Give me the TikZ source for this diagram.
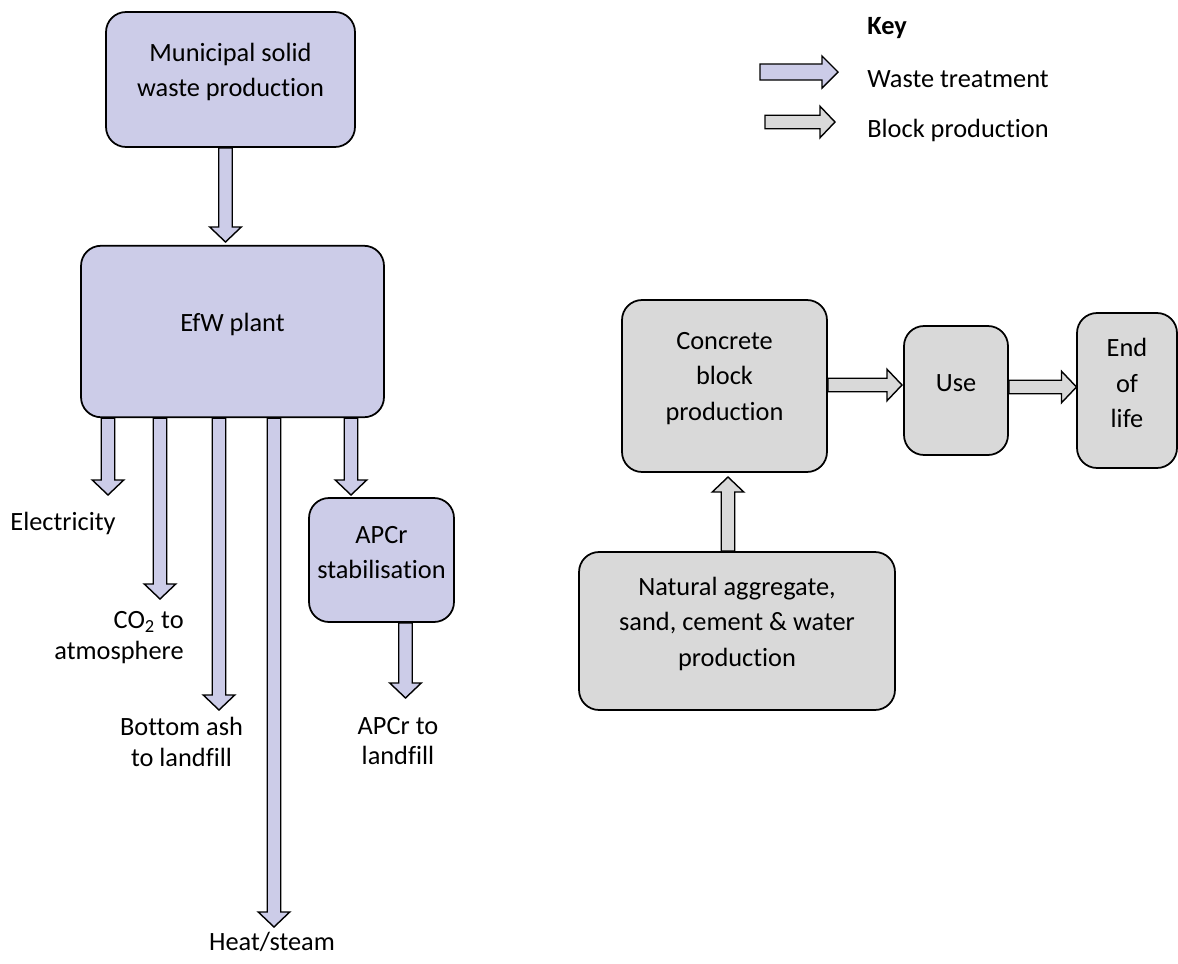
\documentclass[tikz,border=0pt]{standalone}
\usepackage{fontspec}
\setmainfont{Carlito}[Ligatures=NoCommon]
\usetikzlibrary{calc}
\definecolor{waste}{RGB}{204,204,232}
\definecolor{block}{RGB}{217,217,217}

\begin{document}
\begin{tikzpicture}[x=0.02cm, y=-0.02cm, font=\fontsize{15}{17.6}\selectfont,
    box/.style={draw, fill=#1, line width=1pt, rounded corners=0.4cm, inner sep=0},
    txt/.style={align=center, inner sep=0, yshift=0.15cm, font=\fontsize{15}{20.2}\selectfont},
    shaft/.store in=\shafthalf, headw/.store in=\headhalf, headl/.store in=\headlen,
    shaft=0.135cm, headw=0.315cm, headl=0.3cm,
    fat/.style={draw, fill=#1, line width=0.8pt, line join=miter,
        to path={let \p1=(\tikztostart), \p2=(\tikztotarget), \p3=($(\p2)!\headlen!(\p1)$) in
            ($(\p1)!\shafthalf!90:(\p2)$) -- ($(\p3)!\shafthalf!90:(\p2)$) -- ($(\p3)!\headhalf!90:(\p2)$)
            -- (\p2) -- ($(\p3)!\headhalf!-90:(\p2)$) -- ($(\p3)!\shafthalf!-90:(\p2)$)
            -- ($(\p1)!\shafthalf!-90:(\p2)$) -- cycle}}]
\useasboundingbox (0,0) rectangle (1178,964);

% waste treatment
\node[box=waste, minimum width=4.98cm, minimum height=2.7cm,
      label={[txt, name=mswtxt]center:{Municipal solid\\waste production}}] (msw) at (230.5,79.5) {};
\node[box=waste, minimum width=6.06cm, minimum height=3.43cm,
      label={[txt, name=efwtxt]center:{EfW plant}}] (efw) at (232.5,331.5) {};
\node[box=waste, minimum width=2.9cm, minimum height=2.48cm,
      label={[txt, name=apcrtxt]center:{APCr\\stabilisation}}] (apcr) at (381.5,560) {};

\coordinate (mswtip) at (225.5,242);
\draw[fat=waste] (msw.south -| mswtip) to (mswtip);

\coordinate (electip) at (108,495);
\coordinate (co2tip) at (160,599);
\coordinate (ashtip) at (219,710);
\coordinate (heattip) at (274,927);
\coordinate (apcrtip) at (351,495);
\draw[fat=waste] (efw.south -| electip) to (electip);
\draw[fat=waste] (efw.south -| co2tip) to (co2tip);
\draw[fat=waste] (efw.south -| ashtip) to (ashtip);
\draw[fat=waste] (efw.south -| heattip) to (heattip);
\draw[fat=waste] (efw.south -| apcrtip) to (apcrtip);

\coordinate (lftip) at (405.5,698);
\draw[fat=waste] (apcr.south -| lftip) to (lftip);

\node[inner sep=0] (elec) at (63,523) {Electricity};
\node[inner sep=0, align=right, anchor=east] (co2) at (184,638) {CO\textsubscript{2} to\\atmosphere};
\node[inner sep=0, align=center] (ash) at (181.5,742) {Bottom ash\\to landfill};
\node[inner sep=0] (heat) at (272,942) {Heat/steam};
\node[inner sep=0, align=center] (lf) at (398,741) {APCr to\\landfill};

% block production
\node[box=block, minimum width=4.1cm, minimum height=3.44cm,
      label={[txt, name=cbtxt]center:{Concrete\\block\\production}}] (cb) at (724.5,386) {};
\node[box=block, minimum width=2.08cm, minimum height=2.58cm,
      label={[txt, name=usetxt]center:{Use}}] (use) at (956,390.5) {};
\node[box=block, minimum width=2cm, minimum height=3.1cm,
      label={[txt, name=eoltxt]center:{End\\of\\life}}] (eol) at (1127,390.5) {};
\node[box=block, minimum width=6.32cm, minimum height=3.16cm,
      label={[txt, name=nattxt]center:{Natural aggregate,\\sand, cement \& water\\production}}] (nat) at (737,631) {};

\coordinate (cbtip) at (728,477);
\coordinate (usetip) at (902,385);
\coordinate (eoltip) at (1076.5,387);
\draw[fat=block] (nat.north -| cbtip) to (cbtip);
\draw[fat=block] (cb.east |- usetip) to (usetip);
\draw[fat=block] (use.east |- eoltip) to (eoltip);

% key
\node[anchor=west, inner sep=0] (key) at (867,28) {\textbf{Key}};
\node[anchor=west, inner sep=0] (keyw) at (867,79) {Waste treatment};
\node[anchor=west, inner sep=0] (keyb) at (867,130) {Block production};
\coordinate (kw1) at (760,72);
\coordinate (kw2) at (838,72);
\coordinate (kb1) at (765,122);
\coordinate (kb2) at (835,122);
\draw[fat=waste, shaft=0.16cm, headw=0.32cm, headl=0.32cm] (kw1) to (kw2);
\draw[fat=block] (kb1) to (kb2);

\end{tikzpicture}
\end{document}
